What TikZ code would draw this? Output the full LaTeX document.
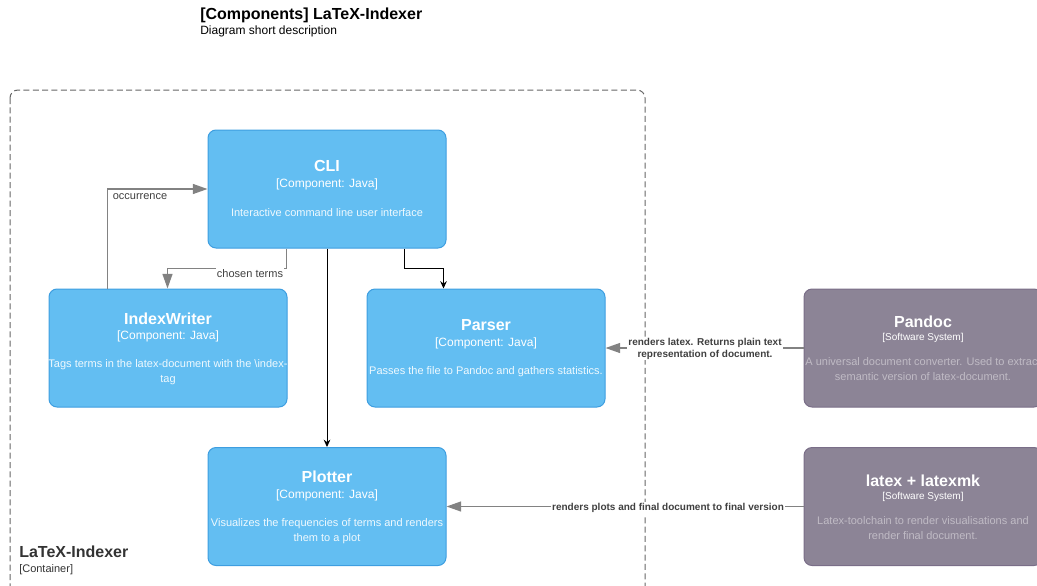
\documentclass[tikz,border=0pt]{standalone}
\usepackage{fontspec}
\setmainfont{Liberation Sans}
\usetikzlibrary{arrows.meta,calc}
\definecolor{compfill}{HTML}{63BEF2}
\definecolor{compline}{HTML}{3E9EE0}
\definecolor{extfill}{HTML}{8C8496}
\definecolor{extline}{HTML}{7A6E88}
\definecolor{relgray}{HTML}{828282}
\definecolor{reltext}{HTML}{404040}
\definecolor{boundline}{HTML}{666666}
\definecolor{boundtext}{HTML}{333333}
\begin{document}
\begin{tikzpicture}[x=0.75pt,y=-0.75pt,
  box/.style={rectangle,rounded corners=6pt,minimum width=178.5pt,minimum height=88.5pt,inner sep=0pt,line width=0.75pt},
  comp/.style={box,fill=compfill,draw=compline},
  ext/.style={box,fill=extfill,draw=extline},
  ttl/.style={anchor=base,text=white,font=\fontsize{12pt}{14pt}\selectfont\bfseries,inner sep=0pt},
  typ/.style={anchor=base,text=white,font=\fontsize{9pt}{11pt}\selectfont,inner sep=0pt},
  etyp/.style={anchor=base,text=white,font=\fontsize{7.5pt}{9pt}\selectfont,inner sep=0pt},
  dsc/.style={anchor=base,text=white!90!compfill,align=center,font=\fontsize{8.25pt}{10.9pt}\selectfont,inner sep=0pt},
  edsc/.style={anchor=base,text=white!45!extfill,align=center,font=\fontsize{8.25pt}{10.9pt}\selectfont,inner sep=0pt},
  rel/.style={draw=relgray,line width=1pt,-{Triangle[length=11pt,width=7.5pt]}},
  blk/.style={draw=black,line width=0.75pt,-{Stealth[length=5.5pt,width=5pt]}},
  rellabel/.style={fill=white,text=reltext,font=\fontsize{8.25pt}{10pt}\selectfont,inner sep=1pt},
  brellabel/.style={fill=white,text=reltext,align=center,font=\fontsize{7.5pt}{9pt}\selectfont\bfseries,inner sep=1pt}
]
\useasboundingbox (0,0) rectangle (1037,585);

% title
\node[anchor=base west,inner sep=0pt,font=\fontsize{12pt}{14pt}\selectfont\bfseries] (title) at (200,20) {[Components] LaTeX-Indexer};
\node[anchor=base west,inner sep=0pt,font=\fontsize{9pt}{11pt}\selectfont] (subtitle) at (200,35) {Diagram short description};

% boundary
\draw[boundline,line width=0.75pt,dash pattern=on 4.5pt off 2.5pt,rounded corners=6pt] (10,90) rectangle (645,594);
\node[anchor=base west,inner sep=0pt,text=boundtext,font=\fontsize{12pt}{14pt}\selectfont\bfseries] (bl) at (19,557) {LaTeX-Indexer};
\node[anchor=base west,inner sep=0pt,text=boundtext,font=\fontsize{8.25pt}{10pt}\selectfont] (bt) at (19,572) {[Container]};

% boxes
\node[comp] (cli) at (327,189) {};
\node[comp] (iw) at (168,348) {};
\node[comp] (parser) at (486,348) {};
\node[comp] (plotter) at (327,506.5) {};
\node[ext] (pandoc) at (923,348) {};
\node[ext] (latex) at (923,506.5) {};

% texts (multi-line nodes: base = last line)
\node[ttl] at (327,171) {CLI};
\node[typ] at (327,187) {[Component: Java]};
\node[dsc] at (327,216) {Interactive command line user interface};

\node[ttl] at (168,324) {IndexWriter};
\node[typ] at (168,339) {[Component: Java]};
\node[dsc] at (168,382) {Tags terms in the latex-document with the \textbackslash index-\\tag};

\node[ttl] at (486,330) {Parser};
\node[typ] at (486,346) {[Component: Java]};
\node[dsc] at (486,374) {Passes the file to Pandoc and gathers statistics.};

\node[ttl] at (327,482) {Plotter};
\node[typ] at (327,498) {[Component: Java]};
\node[dsc] at (327,541) {Visualizes the frequencies of terms and renders\\them to a plot};

\node[ttl] at (923,327) {Pandoc};
\node[etyp] at (923,340.5) {[Software System]};
\node[edsc] at (923,380) {A universal document converter. Used to extract\\semantic version of latex-document.};

\node[ttl] at (923,486) {latex + latexmk};
\node[etyp] at (923,499.5) {[Software System]};
\node[edsc] at (923,539) {Latex-toolchain to render visualisations and\\render final document.};

% connectors
\draw[rel] ($(iw.north west)+(59,0)$) |- (cli.west);
\node[rellabel] at (140,197) {occurrence};

\draw[rel] ($(cli.south west)+(79,0)$) -- ++(0,20) -| ($(iw.north west)+(119,0)$);
\node[rellabel] at (250,273.5) {chosen terms};

\draw[blk] ($(cli.south west)+(197,0)$) -- ++(0,20) -| ($(parser.north west)+(77,0)$);
\draw[blk] (cli.south) -- (plotter.north);

\draw[rel] (pandoc.west) -- (parser.east);
\node[brellabel] at (705,348.5) {renders latex. Returns plain text\\representation of document.};

\draw[rel] (latex.west) -- (plotter.east);
\node[brellabel] at (668,508) {renders plots and final document to final version};
\end{tikzpicture}
\end{document}
